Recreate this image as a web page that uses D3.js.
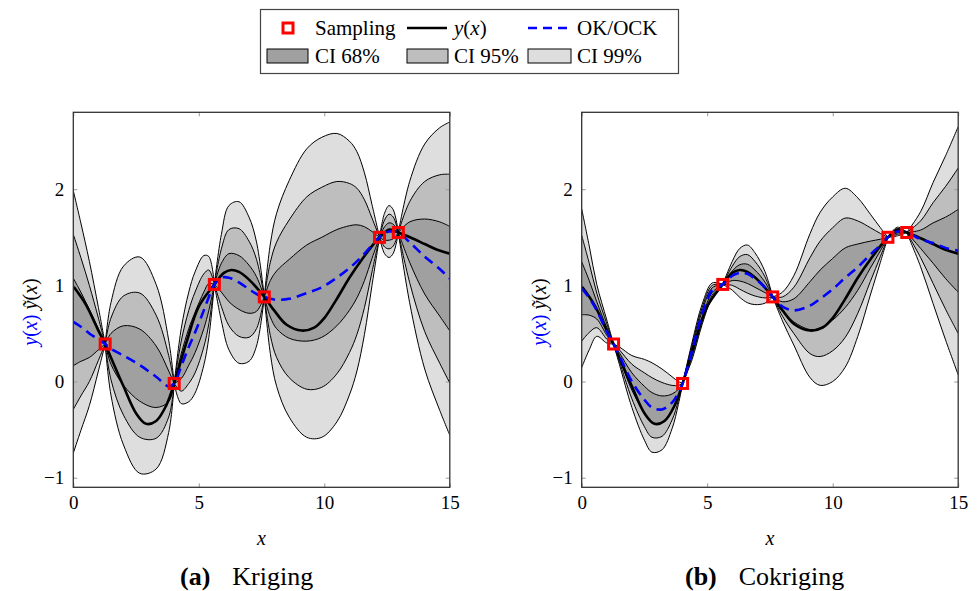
<!DOCTYPE html>
<html>
<head>
<meta charset="utf-8">
<script src="https://cdn.jsdelivr.net/npm/d3@7.9.0/dist/d3.min.js"></script>
<style>
  body { margin: 0; background: #fff; }
  svg text { font-family: "Liberation Serif", "Times New Roman", serif; fill: #000; }
</style>
</head>
<body>
<svg id="chart" width="978" height="591"></svg>
<script>
// sampled points (same in both panels)
const sampleX = [1.27, 4.02, 5.62, 7.61, 12.2, 12.95];
const sampleY = [0.39, -0.02, 1.01, 0.88, 1.50, 1.55];

// true function y(x)
const trueX = [0, 0.5, 1, 1.27, 1.5, 2, 2.5, 2.9, 3.3, 3.7, 4.02, 4.5, 5, 5.62, 6, 6.3, 6.6, 7, 7.61, 8, 8.5, 9.1, 9.6, 10, 10.5, 11, 11.5, 12.2, 12.6, 12.95, 13.5, 14, 14.5, 15];
const trueY = [0.99, 0.80, 0.53, 0.39, 0.25, -0.05, -0.33, -0.44, -0.41, -0.25, -0.02, 0.40, 0.78, 1.01, 1.13, 1.16, 1.14, 1.06, 0.88, 0.74, 0.59, 0.53, 0.56, 0.66, 0.86, 1.08, 1.27, 1.50, 1.58, 1.55, 1.49, 1.43, 1.37, 1.33];

// (a) kriging: predictor and standard deviation
const krigX     = [0, 0.3, 0.64, 1.0, 1.27, 1.5, 2.0, 2.65, 3.3, 3.8, 4.02, 4.3, 4.6, 4.85, 5.2, 5.4, 5.62, 5.9, 6.2, 6.6, 7.0, 7.3, 7.61, 7.85, 8.1, 8.6, 9.3, 9.9, 10.5, 11.0, 11.3, 11.6, 11.9, 12.2, 12.4, 12.58, 12.75, 12.95, 13.4, 14.0, 14.6, 15];
const krigPred  = [0.62, 0.57, 0.50, 0.44, 0.39, 0.34, 0.27, 0.17, 0.05, -0.05, -0.02, 0.16, 0.36, 0.51, 0.74, 0.88, 1.01, 1.08, 1.08, 1.03, 0.96, 0.91, 0.88, 0.86, 0.85, 0.86, 0.92, 0.98, 1.08, 1.18, 1.25, 1.33, 1.42, 1.50, 1.54, 1.56, 1.56, 1.55, 1.45, 1.30, 1.17, 1.07];
const krigSigma = [0.455, 0.36, 0.25, 0.11, 0, 0.16, 0.31, 0.375, 0.32, 0.16, 0, 0.13, 0.19, 0.21, 0.19, 0.14, 0, 0.15, 0.25, 0.28, 0.25, 0.18, 0, 0.19, 0.30, 0.41, 0.50, 0.52, 0.50, 0.44, 0.38, 0.28, 0.14, 0, 0.07, 0.09, 0.075, 0, 0.21, 0.39, 0.49, 0.543];

// (b) cokriging: predictor and standard deviation
const cokX     = [0, 0.3, 0.6, 1.0, 1.27, 1.5, 2.0, 2.5, 2.8, 3.2, 3.6, 3.85, 4.02, 4.4, 4.8, 5.2, 5.62, 6.0, 6.3, 6.6, 6.9, 7.3, 7.61, 8.0, 8.45, 9.1, 9.5, 10.0, 10.5, 11.0, 11.5, 11.9, 12.2, 12.58, 12.95, 13.5, 14.0, 14.5, 15];
const cokPred  = [0.97, 0.87, 0.74, 0.52, 0.39, 0.27, 0.0, -0.19, -0.27, -0.29, -0.22, -0.12, -0.02, 0.32, 0.70, 0.95, 1.01, 1.10, 1.13, 1.12, 1.07, 0.98, 0.88, 0.78, 0.74, 0.79, 0.86, 0.96, 1.08, 1.19, 1.32, 1.42, 1.50, 1.56, 1.55, 1.48, 1.44, 1.39, 1.36];
const cokSigma = [0.275, 0.18, 0.09, 0.04, 0, 0.03, 0.09, 0.14, 0.155, 0.14, 0.09, 0.04, 0, 0.03, 0.035, 0.025, 0, 0.05, 0.085, 0.10, 0.09, 0.055, 0, 0.05, 0.12, 0.25, 0.30, 0.32, 0.31, 0.24, 0.14, 0.06, 0, 0.015, 0, 0.095, 0.21, 0.32, 0.43];

const xTicks = [0, 5, 10, 15];
const yTicks = [-1, 0, 1, 2];

// confidence bands, widest first so the darker ones sit on top
const bands = [
  { label: 'CI 99%', k: 3, fill: '#dedede' },
  { label: 'CI 95%', k: 2, fill: '#bebebe' },
  { label: 'CI 68%', k: 1, fill: '#a0a0a0' }
];

const panels = [
  { tag: '(a)', name: 'Kriging',   left: 73.3,  xs: krigX, pred: krigPred, sigma: krigSigma, capX: 180 },
  { tag: '(b)', name: 'Cokriging', left: 581.7, xs: cokX,  pred: cokPred,  sigma: cokSigma,  capX: 685 }
];

const plotW = 376.5, plotTop = 112.3, plotBottom = 487.3;
const svg = d3.select('#chart');

// writes math like y(x): letters italic, brackets upright
function mathText(sel, str, color) {
  for (const ch of str) {
    sel.append('tspan')
      .attr('font-style', /[a-zỹ]/.test(ch) ? 'italic' : 'normal')
      .attr('fill', color || '#000')
      .text(ch);
  }
}

// split the grid at the sample points so the bands pinch with a kink
function segments(xs) {
  let cuts = [0];
  xs.forEach((x, i) => {
    if (i > 0 && i < xs.length - 1 && sampleX.some(s => Math.abs(s - x) < 1e-6)) cuts.push(i);
  });
  cuts.push(xs.length - 1);
  return d3.pairs(cuts);
}

panels.forEach((p, pi) => {
  let x = d3.scaleLinear().domain([0, 15]).range([p.left, p.left + plotW]);
  let y = d3.scaleLinear().domain([-1.1, 2.8]).range([plotBottom, plotTop]);
  let g = svg.append('g');

  let clipId = 'clip' + pi;
  svg.append('clipPath').attr('id', clipId)
    .append('rect').attr('x', p.left).attr('y', plotTop).attr('width', plotW).attr('height', plotBottom - plotTop);

  let marks = g.append('g').attr('clip-path', `url(#${clipId})`);
  let segs = segments(p.xs);

  bands.forEach(b => {
    segs.forEach(([a, e]) => {
      let rows = d3.range(a, e + 1).map(i => ({ x: p.xs[i], lo: p.pred[i] - b.k * p.sigma[i], hi: p.pred[i] + b.k * p.sigma[i] }));
      let area = d3.area().x(d => x(d.x)).y0(d => y(d.lo)).y1(d => y(d.hi)).curve(d3.curveCatmullRom);
      marks.append('path').attr('d', area(rows)).attr('fill', b.fill);
      ['lo', 'hi'].forEach(key => {
        let line = d3.line().x(d => x(d.x)).y(d => y(d[key])).curve(d3.curveCatmullRom);
        marks.append('path').attr('d', line(rows))
          .attr('fill', 'none').attr('stroke', '#000').attr('stroke-width', 1);
      });
    });
  });

  // true function
  let trueLine = d3.line().x((d, i) => x(trueX[i])).y(d => y(d)).curve(d3.curveCatmullRom);
  marks.append('path').attr('d', trueLine(trueY))
    .attr('fill', 'none').attr('stroke', '#000').attr('stroke-width', 2.6);

  // OK / OCK predictor
  let predLine = d3.line().x((d, i) => x(p.xs[i])).y(d => y(d)).curve(d3.curveCatmullRom);
  marks.append('path').attr('d', predLine(p.pred))
    .attr('fill', 'none').attr('stroke', '#0000ff').attr('stroke-width', 2.6)
    .attr('stroke-dasharray', '10,6');

  // sampling points
  g.selectAll('rect.sample').data(sampleX).join('rect')
    .attr('class', 'sample')
    .attr('x', d => x(d) - 5).attr('y', (d, i) => y(sampleY[i]) - 5)
    .attr('width', 10).attr('height', 10)
    .attr('fill', 'none').attr('stroke', '#ff0000').attr('stroke-width', 3);

  // axes: inward gray ticks on all four sides
  let fmt = d3.format('d');
  let axes = [
    g.append('g').attr('transform', `translate(0,${plotBottom})`)
      .call(d3.axisBottom(x).tickValues(xTicks).tickFormat(fmt).tickSizeInner(-4).tickSizeOuter(0).tickPadding(8)),
    g.append('g').attr('transform', `translate(0,${plotTop})`)
      .call(d3.axisTop(x).tickValues(xTicks).tickSizeInner(-4).tickSizeOuter(0).tickFormat('')),
    g.append('g').attr('transform', `translate(${p.left},0)`)
      .call(d3.axisLeft(y).tickValues(yTicks).tickFormat(fmt).tickSizeInner(-4).tickSizeOuter(0).tickPadding(9)),
    g.append('g').attr('transform', `translate(${p.left + plotW},0)`)
      .call(d3.axisRight(y).tickValues(yTicks).tickSizeInner(-4).tickSizeOuter(0).tickFormat(''))
  ];
  axes.forEach(a => {
    a.select('.domain').remove();
    a.attr('font-family', null);
    a.selectAll('line').attr('stroke', '#999').attr('stroke-width', 1);
    a.selectAll('text').attr('font-size', 19).attr('fill', '#000');
  });

  g.append('rect').attr('x', p.left).attr('y', plotTop).attr('width', plotW).attr('height', plotBottom - plotTop)
    .attr('fill', 'none').attr('stroke', '#333').attr('stroke-width', 1.3);

  // axis labels
  let xl = g.append('text').attr('x', p.left + plotW / 2).attr('y', 545)
    .attr('text-anchor', 'middle').attr('font-size', 20);
  mathText(xl, 'x');

  let yl = g.append('text')
    .attr('transform', `translate(${p.left - 43},312) rotate(-90)`)
    .attr('text-anchor', 'middle').attr('dy', '0.35em').attr('font-size', 20);
  mathText(yl, 'y(x)', '#0000ff');
  yl.append('tspan').text(' ');
  mathText(yl, 'ỹ(x)');

  // caption
  let cap = g.append('text').attr('x', p.capX).attr('y', 585).attr('font-size', 26);
  cap.append('tspan').attr('font-weight', 'bold').text(p.tag);
  cap.append('tspan').attr('dx', 22).text(p.name);
});

// legend
let lg = svg.append('g');
lg.append('rect').attr('x', 260.5).attr('y', 9.5).attr('width', 418).attr('height', 64)
  .attr('fill', '#fff').attr('stroke', '#444').attr('stroke-width', 1.2);

const colX = [267, 407, 528];
const textX = [315, 454, 577];
const row1 = 28, row2 = 56;

lg.append('rect').attr('x', 283).attr('y', row1 - 5).attr('width', 10).attr('height', 10)
  .attr('fill', 'none').attr('stroke', '#ff0000').attr('stroke-width', 3);
lg.append('line').attr('x1', 407).attr('x2', 447).attr('y1', row1).attr('y2', row1)
  .attr('stroke', '#000').attr('stroke-width', 2.6);
lg.append('line').attr('x1', 528).attr('x2', 567).attr('y1', row1).attr('y2', row1)
  .attr('stroke', '#0000ff').attr('stroke-width', 2.6).attr('stroke-dasharray', '9,6');

lg.append('text').attr('x', textX[0]).attr('y', row1).attr('dy', '0.35em').attr('font-size', 21).text('Sampling');
let yx = lg.append('text').attr('x', textX[1]).attr('y', row1).attr('dy', '0.35em').attr('font-size', 21);
mathText(yx, 'y(x)');
lg.append('text').attr('x', textX[2]).attr('y', row1).attr('dy', '0.35em').attr('font-size', 21).text('OK/OCK');

// band swatches, darkest first as in the reference
bands.slice().reverse().forEach((b, i) => {
  lg.append('rect').attr('x', colX[i]).attr('y', row2 - 7).attr('width', i === 2 ? 43 : 41).attr('height', 14)
    .attr('fill', b.fill).attr('stroke', '#000').attr('stroke-width', 1);
  lg.append('text').attr('x', textX[i]).attr('y', row2).attr('dy', '0.35em').attr('font-size', 21).text(b.label);
});
</script>
</body>
</html>
